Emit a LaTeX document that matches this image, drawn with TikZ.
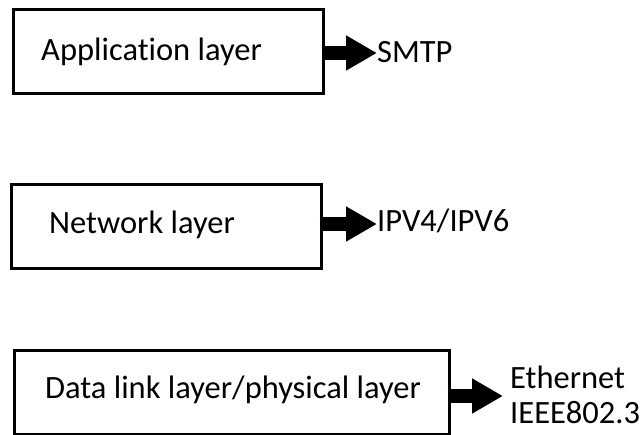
\documentclass[tikz,border=0pt]{standalone}
\usepackage{fontspec}
\setmainfont{Carlito}[RawFeature={-liga;-clig;-dlig}]
\usetikzlibrary{arrows.meta}
\begin{document}
\begin{tikzpicture}[x=1pt,y=1pt,
  layerbox/.style={draw=black, line width=2.6pt, fill=white, inner sep=0pt, anchor=north west},
  lbl/.style={inner sep=0pt, anchor=base west, font=\fontsize{32.5}{34}\selectfont},
  blockarrow/.style={line width=14pt, -{Triangle[length=31pt,width=33pt]}}]
\useasboundingbox (0,0) rectangle (640,-434);
% boxes
\node[layerbox, minimum width=310pt, minimum height=84pt] (b1) at (12,-8) {};
\node[layerbox, minimum width=310pt, minimum height=84pt] (b2) at (10,-183) {};
\node[layerbox, minimum width=435pt, minimum height=84pt] (b3) at (13,-349) {};
% box labels
\node[lbl] (t1) at (41,-60) {Application layer};
\node[lbl] (t2) at (49,-233) {Network layer};
\node[lbl] (t3) at (45,-398) {Data link layer/physical layer};
% protocol labels
\node[lbl] (p1) at (377,-62) {SMTP};
\node[lbl] (p2) at (377,-231) {IPV4/IPV6};
\node[lbl, align=left, anchor=north west] (p3) at (510,-366) {Ethernet\\[1pt]IEEE802.3};
% arrows
\draw[blockarrow] ([xshift=-3pt]b1.east |- 0,-53) -- (p1.west |- 0,-53);
\draw[blockarrow] ([xshift=-3pt]b2.east |- 0,-224) -- (p2.west |- 0,-224);
\draw[blockarrow] ([xshift=-3pt]b3.east |- 0,-396) -- ([xshift=-7pt]p3.west |- 0,-396);
\end{tikzpicture}
\end{document}
